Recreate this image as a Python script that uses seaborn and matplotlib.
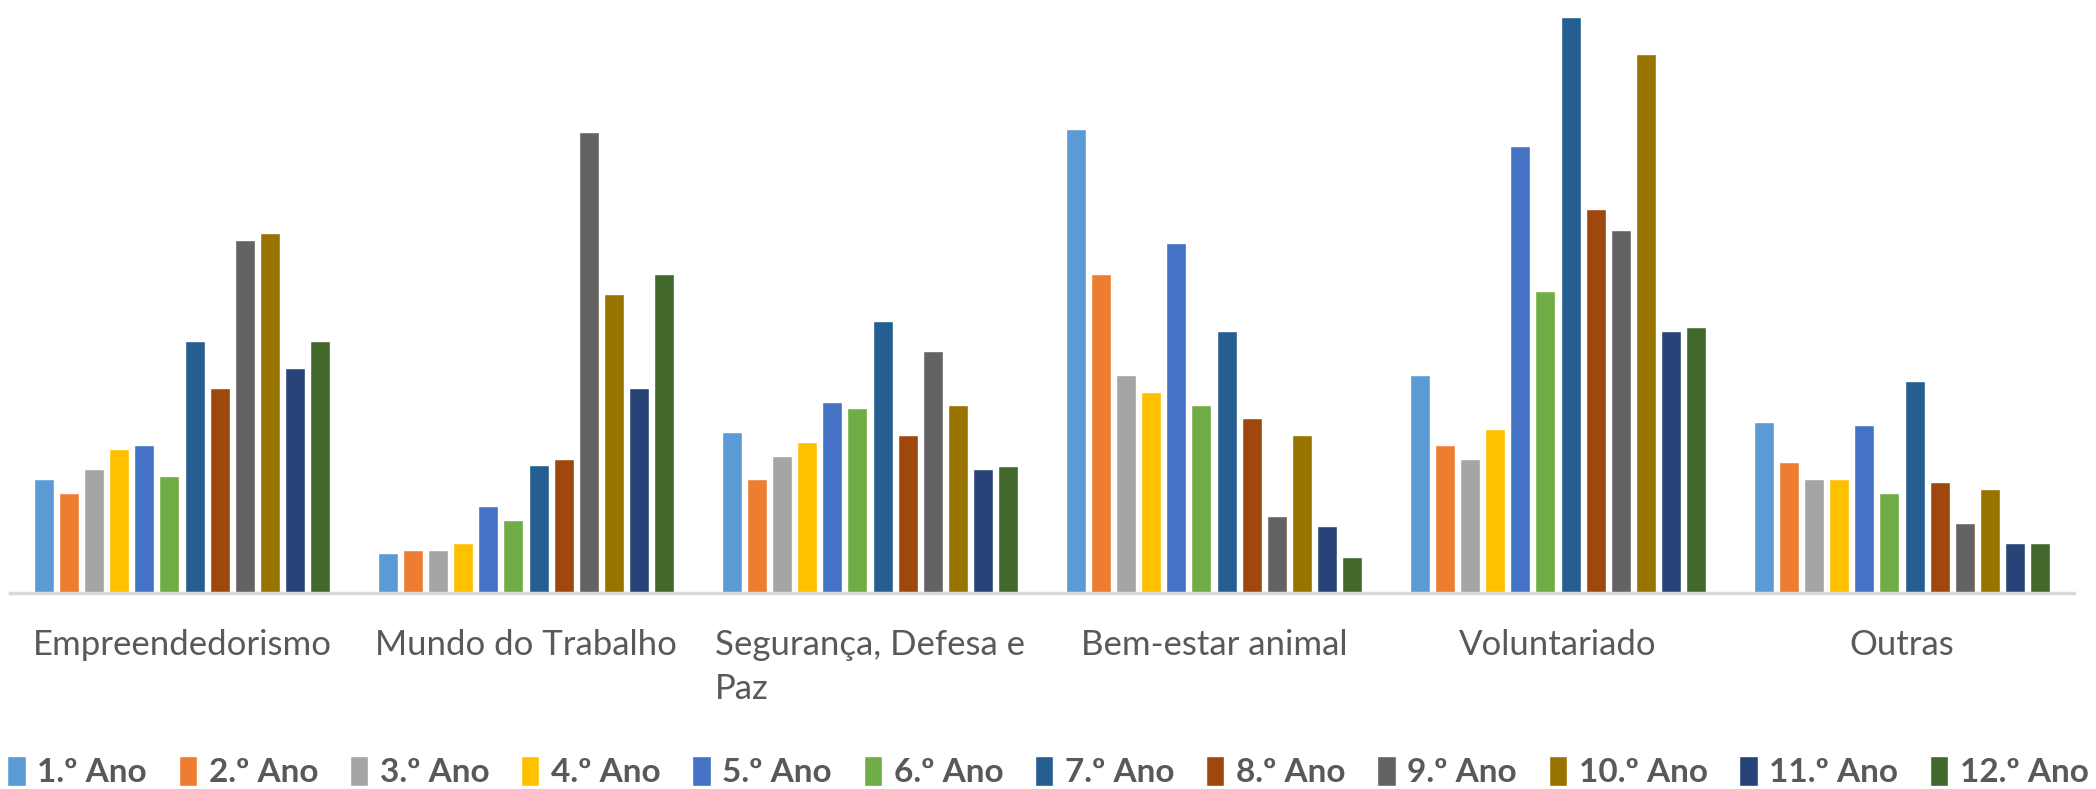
import pandas as pd
import matplotlib.pyplot as plt
import seaborn as sns
from matplotlib.patches import Patch

categorias = ["Empreendedorismo", "Mundo do Trabalho", "Segurança, Defesa e\nPaz",
              "Bem-estar animal", "Voluntariado", "Outras"]
anos = ["1.º Ano", "2.º Ano", "3.º Ano", "4.º Ano", "5.º Ano", "6.º Ano",
        "7.º Ano", "8.º Ano", "9.º Ano", "10.º Ano", "11.º Ano", "12.º Ano"]

# valores (escala arbitraria, sem eixo y)
empreendedorismo = [114, 100, 124, 144, 148, 117, 252, 205, 353, 360, 225, 252]
mundo_trabalho = [40, 43, 43, 50, 87, 73, 128, 134, 461, 299, 205, 319]
seguranca = [161, 114, 137, 151, 191, 185, 272, 158, 242, 188, 124, 127]
bem_estar = [464, 319, 218, 201, 350, 188, 262, 175, 77, 158, 67, 36]
voluntariado = [218, 148, 134, 164, 447, 302, 576, 384, 363, 539, 262, 266]
outras = [171, 131, 114, 114, 168, 100, 212, 111, 70, 104, 50, 50]

cores = ["#5B9BD5", "#ED7D31", "#A5A5A5", "#FFC000", "#4472C4", "#70AD47",
         "#255E91", "#9E480E", "#636363", "#997300", "#264478", "#43682B"]

series = [empreendedorismo, mundo_trabalho, seguranca, bem_estar, voluntariado, outras]
linhas = []
for cat, vals in zip(categorias, series):
    for ano, v in zip(anos, vals):
        linhas.append({"categoria": cat, "ano": ano, "valor": v})
df = pd.DataFrame(linhas)

sns.set_style("white")
plt.rcParams["font.family"] = ["Lato", "DejaVu Sans"]

fig = plt.figure(figsize=(20.96, 7.89), dpi=100)
ax = fig.add_axes([10 / 2096, 196 / 789, 2064 / 2096, 580 / 789])

sns.barplot(data=df, x="categoria", y="valor", hue="ano", order=categorias,
            hue_order=anos, palette=cores, width=0.875, gap=0.2,
            saturation=1, legend=False, ax=ax)

ax.set_xlim(-0.5, 5.5)
ax.set_ylim(0, 580)
ax.set_xlabel("")
ax.set_ylabel("")
ax.set_yticks([])
for s in ["top", "left", "right"]:
    ax.spines[s].set_visible(False)
ax.spines["bottom"].set_color("#D9D9D9")
ax.spines["bottom"].set_linewidth(2.5)
ax.tick_params(axis="x", length=0, pad=26, labelsize=25, labelcolor="#595959")
for lbl in ax.get_xticklabels():
    lbl.set_multialignment("left")
    lbl.set_linespacing(1.45)

handles = [Patch(facecolor=c, label=a) for c, a in zip(cores, anos)]
fig.legend(handles=handles, loc="center", bbox_to_anchor=(0.5, 0.022), ncol=12,
           frameon=False, handlelength=0.55, handleheight=1.0, handletextpad=0.35,
           columnspacing=0.95, prop={"size": 24, "weight": "bold"}, labelcolor="#595959")

fig.savefig("out.png", dpi=100)
